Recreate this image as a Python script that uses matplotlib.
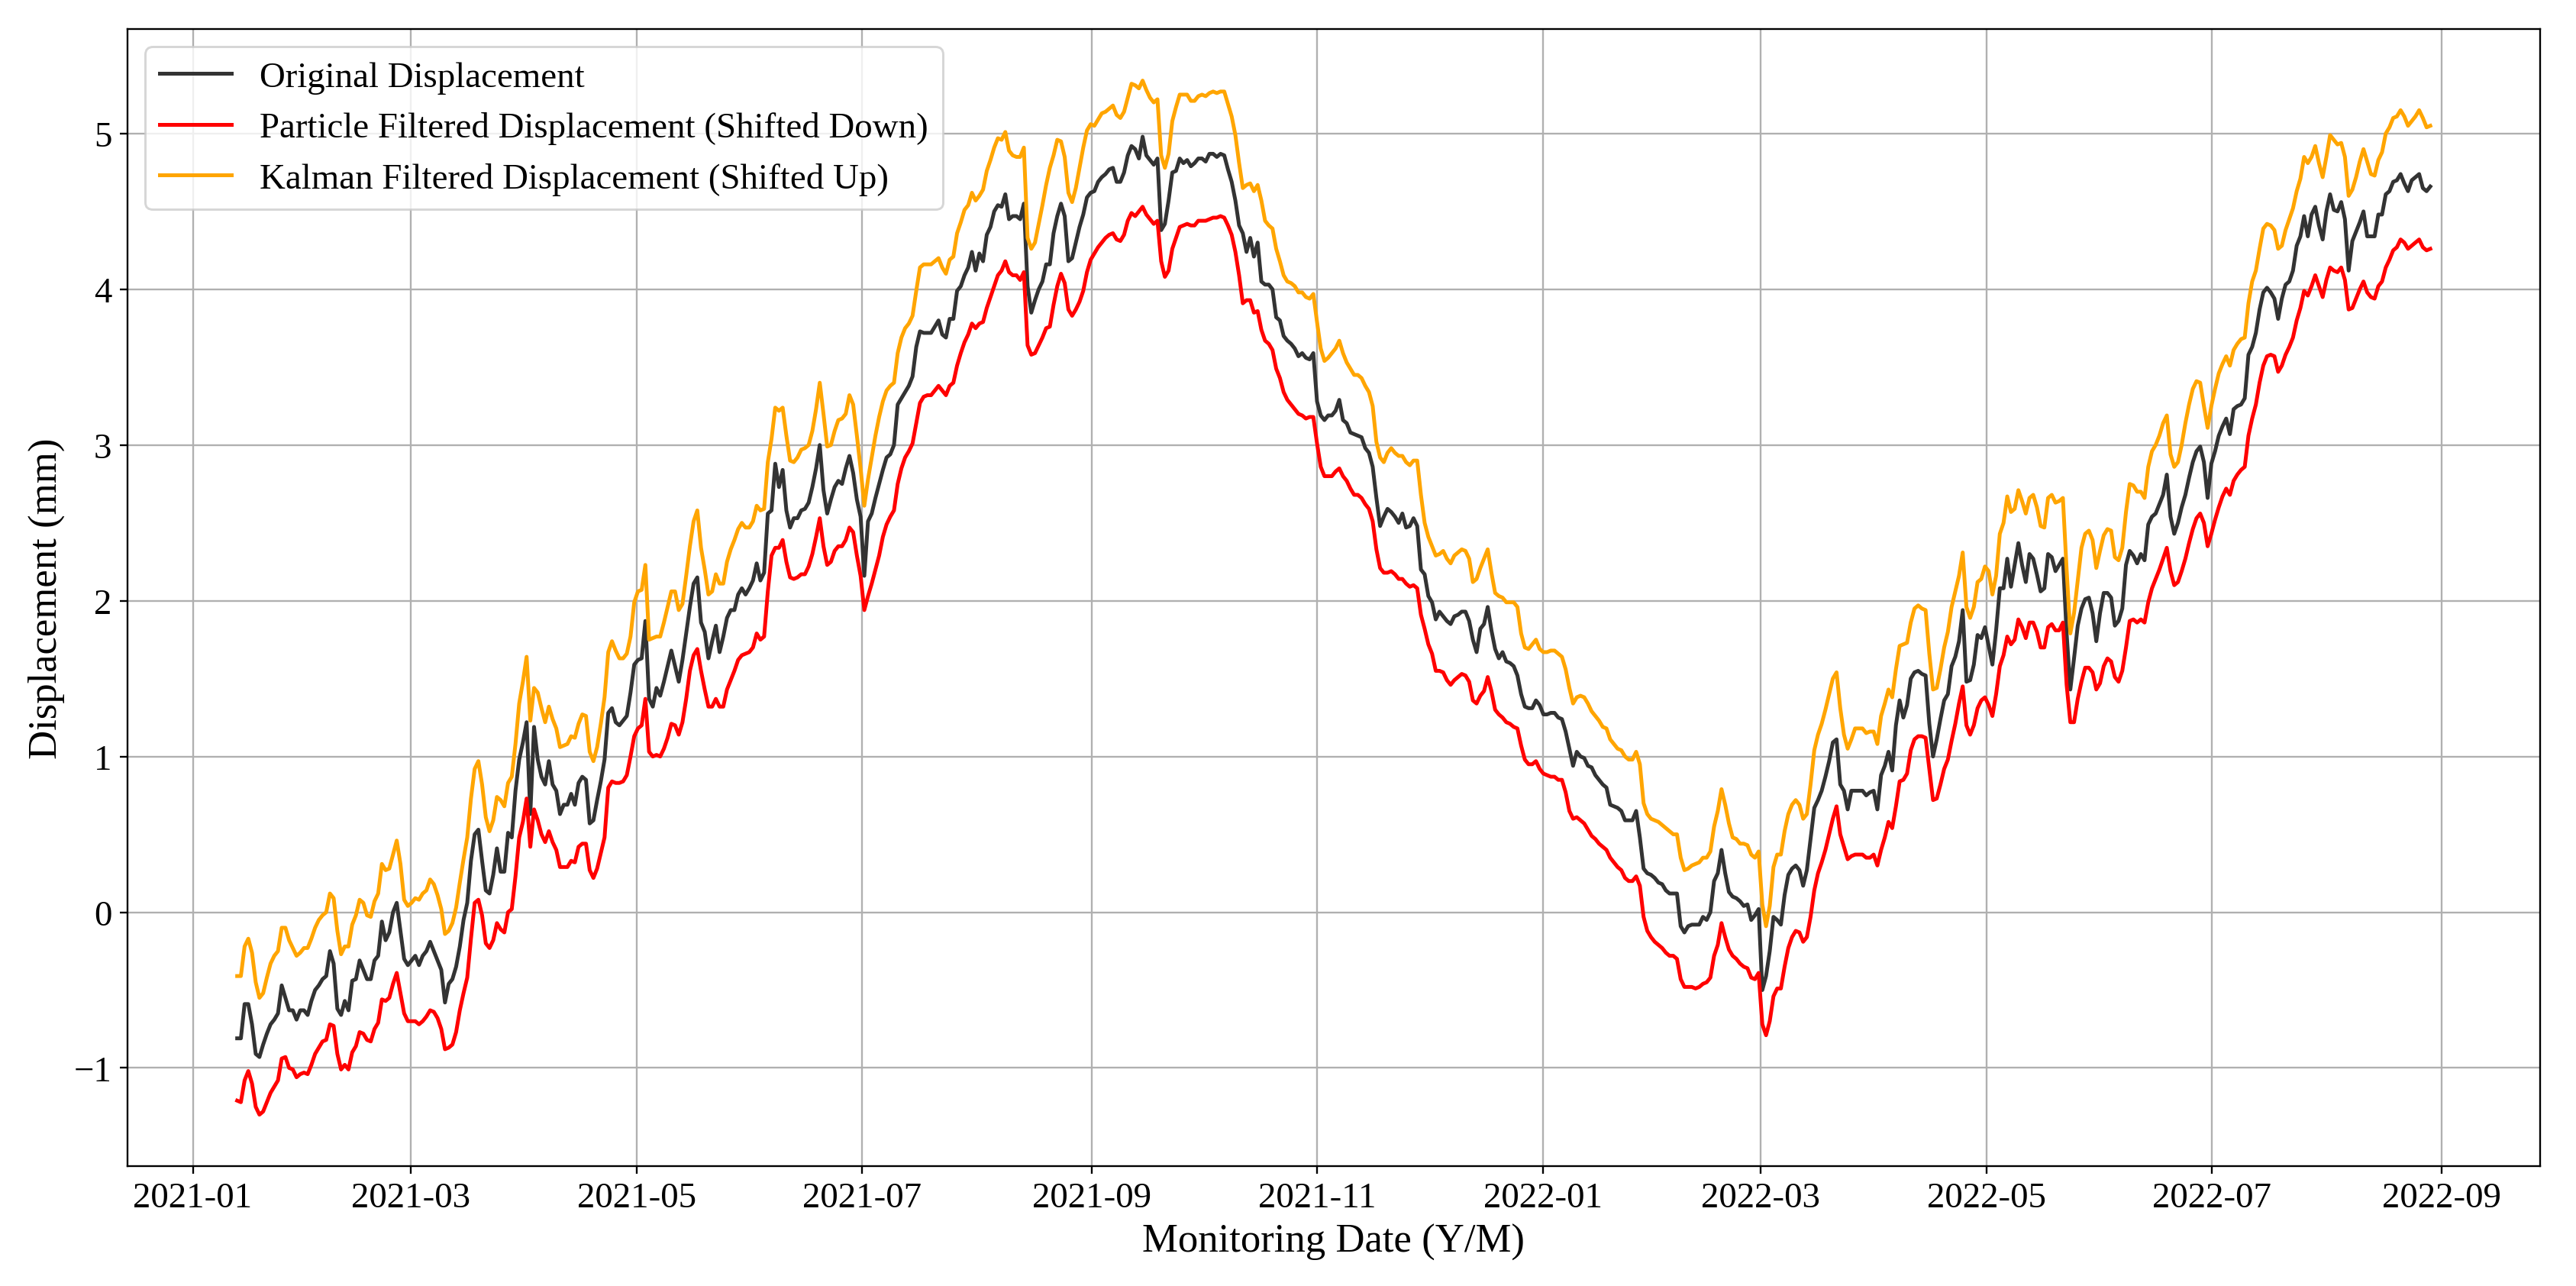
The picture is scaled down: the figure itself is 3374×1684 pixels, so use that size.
import matplotlib

matplotlib.use("Agg")

import matplotlib.dates as mdates
import matplotlib.pyplot as plt
import pandas as pd

# daily samples, first and last day
START_DATE = "2021-01-13"
END_DATE = "2022-08-29"

original = [
    -0.81, -0.81, -0.59, -0.59, -0.72, -0.91, -0.93, -0.85, -0.78, -0.72,
    -0.69, -0.65, -0.47, -0.55, -0.63, -0.63, -0.69, -0.63, -0.63, -0.66,
    -0.57, -0.50, -0.47, -0.43, -0.41, -0.25, -0.33, -0.62, -0.66, -0.57,
    -0.63, -0.44, -0.43, -0.31, -0.37, -0.43, -0.43, -0.31, -0.28, -0.06,
    -0.18, -0.13, 0.00, 0.06, -0.12, -0.30, -0.34, -0.31, -0.28, -0.34,
    -0.28, -0.25, -0.19, -0.25, -0.31, -0.37, -0.58, -0.46, -0.43, -0.35,
    -0.22, -0.05, 0.06, 0.33, 0.50, 0.53, 0.33, 0.14, 0.12, 0.24,
    0.41, 0.26, 0.26, 0.51, 0.48, 0.78, 0.98, 1.09, 1.22, 0.63,
    1.19, 0.98, 0.87, 0.82, 0.97, 0.82, 0.78, 0.63, 0.69, 0.69,
    0.76, 0.69, 0.83, 0.87, 0.85, 0.57, 0.59, 0.72, 0.84, 0.98,
    1.28, 1.31, 1.22, 1.20, 1.23, 1.26, 1.41, 1.59, 1.62, 1.63,
    1.87,
    1.37, 1.32, 1.44, 1.39, 1.48, 1.58, 1.68, 1.58, 1.48, 1.62,
    1.79, 1.96, 2.11, 2.15, 1.86, 1.80, 1.63, 1.74, 1.84, 1.67,
    1.77, 1.89, 1.94, 1.94, 2.04, 2.08, 2.04, 2.08, 2.13, 2.24,
    2.13, 2.18, 2.56, 2.58, 2.88, 2.73, 2.84, 2.58, 2.47, 2.53,
    2.53, 2.58, 2.59, 2.63, 2.73, 2.85, 3.00, 2.71, 2.56, 2.65,
    2.73, 2.77, 2.75, 2.85, 2.93, 2.82, 2.65, 2.54, 2.16, 2.51,
    2.56, 2.66, 2.75, 2.84, 2.92, 2.94, 3.00, 3.26, 3.30, 3.34,
    3.38, 3.44, 3.63, 3.73, 3.72, 3.72, 3.72, 3.76, 3.80, 3.71,
    3.69, 3.81, 3.81, 3.99, 4.02, 4.09, 4.14, 4.24, 4.12, 4.23,
    4.18, 4.35, 4.40, 4.50, 4.54, 4.53, 4.61, 4.45, 4.47, 4.47,
    4.45, 4.55, 4.02, 3.85, 3.93, 4.00, 4.05, 4.16, 4.16, 4.36,
    4.47, 4.55, 4.47, 4.18, 4.20, 4.30, 4.40, 4.48, 4.59, 4.62,
    4.63, 4.69, 4.72, 4.74, 4.77, 4.78, 4.69, 4.69, 4.75, 4.86,
    4.92, 4.90, 4.84, 4.98, 4.86, 4.83, 4.80, 4.84, 4.38, 4.42,
    4.57, 4.75, 4.76, 4.84, 4.81, 4.83, 4.79, 4.81, 4.84, 4.84,
    4.82, 4.87, 4.87, 4.85, 4.87, 4.86, 4.77, 4.69, 4.57, 4.41,
    4.36, 4.24, 4.33, 4.21, 4.30, 4.05, 4.03, 4.03, 4.00, 3.82,
    3.80, 3.70, 3.67, 3.65, 3.62, 3.57, 3.59, 3.56, 3.55, 3.59,
    3.28, 3.19, 3.16, 3.19, 3.19, 3.22, 3.29, 3.16, 3.14, 3.08,
    3.07, 3.06, 3.05, 2.98, 2.95, 2.86, 2.66, 2.48, 2.54, 2.59,
    2.57, 2.54, 2.50, 2.56, 2.47, 2.48, 2.53, 2.48, 2.20, 2.17,
    2.03, 1.99, 1.88, 1.93, 1.90, 1.87, 1.85, 1.90, 1.91, 1.93,
    1.93, 1.87, 1.75, 1.67, 1.82, 1.85, 1.96, 1.81, 1.69, 1.63,
    1.67, 1.61, 1.60, 1.58, 1.52, 1.40, 1.32, 1.31, 1.31, 1.36,
    1.33, 1.27, 1.27,
    1.28, 1.28, 1.25, 1.24, 1.16, 1.05, 0.94, 1.03, 1.00, 0.99,
    0.94, 0.93, 0.88, 0.85, 0.82, 0.80, 0.69, 0.68, 0.67, 0.65,
    0.59, 0.59, 0.59, 0.65, 0.48, 0.28, 0.25, 0.24, 0.22, 0.19,
    0.18, 0.14, 0.12, 0.12, 0.12, -0.09, -0.13, -0.09, -0.08, -0.08,
    -0.08, -0.03, -0.05, 0.00, 0.20, 0.25, 0.40, 0.25, 0.13, 0.10,
    0.09, 0.07, 0.04, 0.05, -0.05, -0.02, 0.02, -0.50, -0.41, -0.25,
    -0.03, -0.05, -0.08, 0.11, 0.24, 0.28, 0.30, 0.27, 0.17, 0.27,
    0.47, 0.67, 0.72, 0.78, 0.87, 0.97, 1.09, 1.11, 0.82, 0.78,
    0.66, 0.78, 0.78, 0.78, 0.78, 0.75, 0.77, 0.78, 0.66, 0.88,
    0.94, 1.03, 0.91, 1.20, 1.36, 1.25, 1.33, 1.50, 1.54, 1.55,
    1.53, 1.52, 1.21, 1.00, 1.11, 1.24, 1.36, 1.40, 1.58, 1.64,
    1.74, 1.94, 1.48, 1.49, 1.59, 1.78, 1.76, 1.83, 1.71, 1.59,
    1.81, 2.08, 2.08, 2.27, 2.09, 2.23, 2.37, 2.23, 2.12, 2.30,
    2.27, 2.17, 2.06, 2.08, 2.30, 2.28, 2.19, 2.23, 2.27, 1.79,
    1.43, 1.63, 1.84, 1.95, 2.01, 2.02, 1.92, 1.74, 1.92, 2.05,
    2.05, 2.02, 1.84, 1.87, 1.95, 2.23, 2.32, 2.29, 2.24, 2.30,
    2.26, 2.49, 2.54, 2.56, 2.62, 2.68, 2.81, 2.54, 2.43, 2.50,
    2.60, 2.68, 2.79, 2.89, 2.96, 2.99, 2.89, 2.66, 2.88, 2.96,
    3.06, 3.12, 3.17, 3.07, 3.23, 3.25, 3.26, 3.30, 3.58, 3.63,
    3.72, 3.87, 3.98, 4.01, 3.98, 3.94, 3.81, 3.94, 4.03, 4.05,
    4.12, 4.28, 4.34, 4.47, 4.34, 4.48, 4.53, 4.41, 4.32, 4.50,
    4.61, 4.51, 4.50, 4.56, 4.45, 4.12, 4.31, 4.37, 4.43, 4.50,
    4.34, 4.34, 4.34, 4.48, 4.48, 4.61, 4.63, 4.69, 4.70, 4.74,
    4.68, 4.63, 4.70, 4.72, 4.74, 4.65, 4.63, 4.66,
]

particle = [
    -1.21, -1.22, -1.08, -1.02, -1.10, -1.25, -1.30, -1.28, -1.22, -1.16,
    -1.12, -1.08, -0.94, -0.93, -1.00, -1.01, -1.06, -1.04, -1.03, -1.04,
    -0.98, -0.91, -0.87, -0.83, -0.82, -0.72, -0.73, -0.91, -1.01, -0.98,
    -1.01, -0.90, -0.86, -0.77, -0.78, -0.82, -0.83, -0.75, -0.71, -0.56,
    -0.57, -0.55, -0.46, -0.39, -0.52, -0.65, -0.70, -0.70, -0.70, -0.72,
    -0.70, -0.67, -0.63, -0.64, -0.68, -0.75, -0.88, -0.87, -0.85, -0.77,
    -0.63, -0.52, -0.42, -0.17, 0.06, 0.08, -0.02, -0.20, -0.23, -0.18,
    -0.07, -0.11, -0.13, 0.00, 0.02, 0.23, 0.48, 0.58, 0.73, 0.42,
    0.66, 0.59, 0.50, 0.45, 0.52, 0.45, 0.40, 0.29, 0.29, 0.29,
    0.33, 0.32, 0.42, 0.44, 0.44, 0.27, 0.22, 0.28, 0.38, 0.48,
    0.80, 0.84, 0.83, 0.83, 0.84, 0.88, 1.00, 1.13, 1.18, 1.20,
    1.37,
    1.03, 1.00, 1.01, 1.00, 1.05, 1.12, 1.21, 1.20, 1.14, 1.22,
    1.37, 1.55, 1.65, 1.69, 1.55, 1.43, 1.32, 1.32, 1.37, 1.32,
    1.32, 1.43, 1.49, 1.55, 1.62, 1.65, 1.66, 1.67, 1.70, 1.79,
    1.75, 1.77, 2.06, 2.29, 2.34, 2.34, 2.39, 2.25, 2.15, 2.14,
    2.15, 2.17, 2.17, 2.22, 2.30, 2.41, 2.53, 2.35, 2.23, 2.25,
    2.32, 2.35, 2.35, 2.39, 2.47, 2.44, 2.29, 2.16, 1.94, 2.03,
    2.11, 2.20, 2.29, 2.41, 2.49, 2.54, 2.58, 2.75, 2.85, 2.92,
    2.96, 3.01, 3.14, 3.27, 3.31, 3.32, 3.32, 3.35, 3.38, 3.35,
    3.32, 3.38, 3.40, 3.51, 3.59, 3.66, 3.71, 3.78, 3.75, 3.78,
    3.79, 3.88, 3.95, 4.02, 4.09, 4.12, 4.18, 4.11, 4.09, 4.09,
    4.06, 4.11, 3.64, 3.58, 3.59, 3.64, 3.69, 3.75, 3.76, 3.90,
    4.02, 4.10, 4.04, 3.87, 3.83, 3.87, 3.92, 3.99, 4.11, 4.19,
    4.23, 4.27, 4.30, 4.33, 4.35, 4.36, 4.32, 4.31, 4.35, 4.44,
    4.49, 4.47, 4.50, 4.53, 4.48, 4.45, 4.42, 4.44, 4.18, 4.08,
    4.12, 4.26, 4.33, 4.40, 4.41, 4.42, 4.41, 4.41, 4.44, 4.44,
    4.44, 4.45, 4.46, 4.46, 4.47, 4.46, 4.41, 4.35, 4.24, 4.09,
    3.91, 3.93, 3.93, 3.85, 3.86, 3.74, 3.67, 3.65, 3.61, 3.49,
    3.43, 3.34, 3.29, 3.26, 3.23, 3.20, 3.19, 3.17, 3.18, 3.18,
    3.01, 2.86, 2.80, 2.80, 2.80, 2.83, 2.85, 2.80, 2.77, 2.72,
    2.68, 2.68, 2.66, 2.62, 2.59, 2.51, 2.33, 2.21, 2.18, 2.18,
    2.19, 2.17, 2.14, 2.14, 2.11, 2.09, 2.10, 2.08, 1.91, 1.82,
    1.72, 1.66, 1.55, 1.55, 1.54, 1.49, 1.46, 1.49, 1.51, 1.53,
    1.52, 1.48, 1.36, 1.34, 1.39, 1.42, 1.51, 1.42, 1.30, 1.27,
    1.25, 1.22, 1.21, 1.19, 1.18, 1.07, 0.98, 0.95, 0.95, 0.97,
    0.92, 0.89, 0.88,
    0.87, 0.87, 0.85, 0.85, 0.77, 0.65, 0.60, 0.61, 0.59, 0.57,
    0.53, 0.49, 0.47, 0.44, 0.42, 0.40, 0.35, 0.32, 0.29, 0.27,
    0.22, 0.20, 0.20, 0.23, 0.17, -0.03, -0.12, -0.16, -0.19, -0.21,
    -0.23, -0.26, -0.28, -0.28, -0.30, -0.43, -0.48, -0.48, -0.48, -0.49,
    -0.48, -0.46, -0.45, -0.42, -0.28, -0.21, -0.07, -0.16, -0.24, -0.28,
    -0.30, -0.33, -0.35, -0.36, -0.42, -0.43, -0.39, -0.72, -0.79, -0.70,
    -0.54, -0.49, -0.49, -0.35, -0.23, -0.16, -0.12, -0.13, -0.19, -0.16,
    -0.03, 0.14, 0.25, 0.32, 0.40, 0.50, 0.60, 0.68, 0.50, 0.42,
    0.34, 0.36, 0.37, 0.37, 0.37, 0.35, 0.35, 0.37, 0.30, 0.40,
    0.48, 0.58, 0.54, 0.68, 0.84, 0.85, 0.89, 1.04, 1.11, 1.13,
    1.13, 1.12, 0.92, 0.72, 0.73, 0.82, 0.92, 0.98, 1.10, 1.21,
    1.34, 1.45, 1.20, 1.14, 1.20, 1.31, 1.36, 1.38, 1.33, 1.26,
    1.40, 1.58, 1.65, 1.77, 1.72, 1.75, 1.88, 1.83, 1.76, 1.86,
    1.86, 1.80, 1.70, 1.70, 1.83, 1.85, 1.81, 1.81, 1.86, 1.46,
    1.22, 1.22, 1.37, 1.48, 1.57, 1.57, 1.54, 1.43, 1.47, 1.58,
    1.63, 1.61, 1.51, 1.48, 1.55, 1.70, 1.87, 1.88, 1.86, 1.88,
    1.86, 1.99, 2.08, 2.14, 2.20, 2.27, 2.34, 2.19, 2.10, 2.12,
    2.19, 2.27, 2.37, 2.46, 2.53, 2.56, 2.50, 2.35, 2.43, 2.52,
    2.60, 2.67, 2.72, 2.68, 2.77, 2.81, 2.84, 2.86, 3.06, 3.17,
    3.26, 3.40, 3.51, 3.57, 3.58, 3.57, 3.47, 3.51, 3.58, 3.63,
    3.69, 3.80, 3.88, 3.99, 3.96, 4.02, 4.09, 4.02, 3.95, 4.06,
    4.14, 4.12, 4.11, 4.14, 4.06, 3.87, 3.88, 3.94, 4.00, 4.05,
    3.98, 3.95, 3.94, 4.02, 4.05, 4.14, 4.19, 4.25, 4.27, 4.32,
    4.30, 4.26, 4.28, 4.30, 4.32, 4.27, 4.25, 4.26,
]

kalman = [
    -0.41, -0.41, -0.22, -0.17, -0.26, -0.45, -0.55, -0.52, -0.42, -0.33,
    -0.28, -0.25, -0.10, -0.10, -0.18, -0.23, -0.28, -0.26, -0.23, -0.23,
    -0.17, -0.10, -0.05, -0.02, 0.00, 0.12, 0.09, -0.12, -0.27, -0.22,
    -0.22, -0.08, -0.02, 0.08, 0.06, -0.02, -0.03, 0.07, 0.12, 0.31,
    0.27, 0.28, 0.37, 0.46, 0.31, 0.08, 0.04, 0.06, 0.09, 0.08,
    0.12, 0.14, 0.21, 0.18, 0.11, 0.02, -0.14, -0.12, -0.07, 0.03,
    0.19, 0.34, 0.48, 0.73, 0.92, 0.97, 0.82, 0.61, 0.52, 0.59,
    0.74, 0.72, 0.68, 0.83, 0.87, 1.08, 1.34, 1.48, 1.64, 1.23,
    1.44, 1.41, 1.31, 1.22, 1.32, 1.24, 1.18, 1.06, 1.07, 1.08,
    1.13, 1.12, 1.21, 1.27, 1.26, 1.03, 0.97, 1.06, 1.21, 1.38,
    1.67, 1.74, 1.68, 1.63, 1.63, 1.66, 1.77, 1.99, 2.06, 2.07,
    2.23,
    1.75, 1.76, 1.77, 1.77, 1.86, 1.96, 2.06, 2.06, 1.94, 1.98,
    2.16, 2.35, 2.51, 2.58, 2.34, 2.20, 2.04, 2.06, 2.17, 2.11,
    2.11, 2.25, 2.33, 2.39, 2.46, 2.50, 2.47, 2.47, 2.51, 2.61,
    2.58, 2.59, 2.89, 3.04, 3.24, 3.22, 3.24, 3.06, 2.90, 2.89,
    2.92, 2.97, 2.98, 3.00, 3.09, 3.23, 3.40, 3.20, 2.99, 3.00,
    3.09, 3.16, 3.17, 3.20, 3.32, 3.26, 3.06, 2.85, 2.61, 2.78,
    2.92, 3.06, 3.18, 3.28, 3.35, 3.38, 3.40, 3.59, 3.69, 3.75,
    3.78, 3.83, 3.99, 4.14, 4.16, 4.16, 4.16, 4.18, 4.20, 4.14,
    4.10, 4.19, 4.21, 4.36, 4.43, 4.51, 4.54, 4.62, 4.57, 4.60,
    4.64, 4.76, 4.83, 4.91, 4.97, 4.96, 5.01, 4.89, 4.86, 4.85,
    4.85, 4.91, 4.33, 4.26, 4.30, 4.42, 4.54, 4.67, 4.78, 4.86,
    4.96, 4.95, 4.85, 4.62, 4.56, 4.65, 4.78, 4.91, 5.02, 5.06,
    5.05, 5.09, 5.13, 5.14, 5.16, 5.18, 5.12, 5.10, 5.14, 5.23,
    5.32, 5.31, 5.29, 5.34, 5.28, 5.23, 5.20, 5.22, 4.86, 4.78,
    4.87, 5.08, 5.17, 5.25, 5.25, 5.25, 5.21, 5.21, 5.24, 5.25,
    5.24, 5.26, 5.27, 5.26, 5.27, 5.27, 5.19, 5.11, 4.99, 4.81,
    4.65, 4.67, 4.68, 4.63, 4.67, 4.57, 4.44, 4.41, 4.39, 4.26,
    4.18, 4.09, 4.05, 4.04, 4.02, 3.98, 3.98, 3.95, 3.94, 3.97,
    3.79, 3.62, 3.54, 3.56, 3.59, 3.62, 3.67, 3.59, 3.53, 3.49,
    3.45, 3.45, 3.43, 3.38, 3.34, 3.25, 3.02, 2.92, 2.89, 2.95,
    2.98, 2.95, 2.93, 2.93, 2.89, 2.87, 2.90, 2.90, 2.68, 2.50,
    2.41, 2.35, 2.29, 2.30, 2.32, 2.27, 2.24, 2.29, 2.31, 2.33,
    2.32, 2.27, 2.12, 2.14, 2.21, 2.27, 2.33, 2.18, 2.05, 2.03,
    2.02, 1.99, 1.99, 1.99, 1.96, 1.79, 1.70, 1.69, 1.72, 1.75,
    1.69, 1.67, 1.67,
    1.68, 1.68, 1.66, 1.64, 1.56, 1.44, 1.34, 1.38, 1.39, 1.38,
    1.34, 1.29, 1.26, 1.23, 1.19, 1.18, 1.11, 1.08, 1.05, 1.04,
    1.00, 0.98, 0.98, 1.03, 0.95, 0.70, 0.63, 0.60, 0.59, 0.58,
    0.56, 0.54, 0.52, 0.50, 0.50, 0.35, 0.27, 0.28, 0.30, 0.31,
    0.32, 0.35, 0.35, 0.39, 0.55, 0.65, 0.79, 0.69, 0.57, 0.48,
    0.47, 0.44, 0.44, 0.43, 0.37, 0.35, 0.39, 0.05, -0.09, 0.04,
    0.29, 0.37, 0.37, 0.52, 0.63, 0.69, 0.72, 0.69, 0.60, 0.63,
    0.82, 1.04, 1.14, 1.21, 1.30, 1.40, 1.50, 1.54, 1.31, 1.14,
    1.05, 1.11, 1.18, 1.18, 1.18, 1.15, 1.16, 1.16, 1.08, 1.26,
    1.34, 1.43, 1.38, 1.56, 1.71, 1.72, 1.73, 1.86, 1.95, 1.97,
    1.95, 1.94, 1.66, 1.43, 1.44, 1.56, 1.70, 1.80, 1.96, 2.06,
    2.16, 2.31, 1.96, 1.89, 1.96, 2.12, 2.14, 2.22, 2.19, 2.04,
    2.16, 2.43, 2.50, 2.67, 2.57, 2.59, 2.71, 2.64, 2.56, 2.66,
    2.68, 2.60, 2.48, 2.47, 2.66, 2.68, 2.63, 2.64, 2.66, 2.20,
    1.79, 1.92, 2.13, 2.34, 2.43, 2.45, 2.39, 2.21, 2.32, 2.42,
    2.46, 2.45, 2.28, 2.26, 2.34, 2.57, 2.75, 2.74, 2.70, 2.70,
    2.66, 2.86, 2.96, 3.00, 3.06, 3.14, 3.19, 2.94, 2.86, 2.89,
    3.00, 3.14, 3.26, 3.36, 3.41, 3.40, 3.25, 3.11, 3.25, 3.36,
    3.46, 3.52, 3.57, 3.51, 3.61, 3.65, 3.68, 3.69, 3.91, 4.05,
    4.12, 4.26, 4.39, 4.42, 4.41, 4.38, 4.26, 4.28, 4.38, 4.45,
    4.52, 4.63, 4.71, 4.85, 4.81, 4.85, 4.92, 4.81, 4.72, 4.85,
    4.99, 4.96, 4.93, 4.94, 4.85, 4.60, 4.64, 4.72, 4.82, 4.90,
    4.82, 4.74, 4.73, 4.83, 4.88, 5.00, 5.04, 5.10, 5.11, 5.15,
    5.11, 5.05, 5.08, 5.11, 5.15, 5.10, 5.04, 5.05,
]

dates = pd.date_range(START_DATE, END_DATE, periods=len(original))

plt.rcParams["font.family"] = ["Liberation Serif", "DejaVu Serif"]

fig, ax = plt.subplots(figsize=(16, 7.99))

ax.plot(dates, original, color="#333333", linewidth=1.7, label="Original Displacement")
ax.plot(dates, particle, color="red", linewidth=1.7,
        label="Particle Filtered Displacement (Shifted Down)")
ax.plot(dates, kalman, color="orange", linewidth=1.7,
        label="Kalman Filtered Displacement (Shifted Up)")

ax.xaxis.set_major_locator(mdates.MonthLocator(bymonth=[1, 3, 5, 7, 9, 11]))
ax.xaxis.set_major_formatter(mdates.DateFormatter("%Y-%m"))
ax.set_xlabel("Monitoring Date (Y/M)", fontsize=18)
ax.set_ylabel("Displacement (mm)", fontsize=18)
ax.tick_params(labelsize=16)
ax.legend(loc="upper left", fontsize=16)
ax.grid(True)

fig.subplots_adjust(left=0.0495, right=0.986, bottom=0.093, top=0.977)
fig.savefig("out.png", dpi=210.875)
